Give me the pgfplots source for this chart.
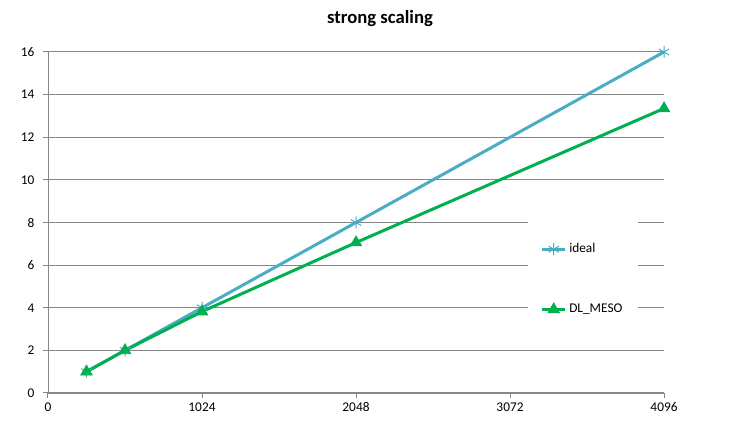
\documentclass[border=0pt]{standalone}
\usepackage{fontspec}
\setmainfont{Carlito}
\usepackage{pgfplots}
\pgfplotsset{compat=1.18}

\definecolor{idealblue}{HTML}{4BACC6}
\definecolor{mesogreen}{HTML}{00B050}
\definecolor{gridgray}{HTML}{868686}

\begin{document}
\begin{tikzpicture}
\begin{axis}[
  name=ax,
  scale only axis,
  width=462pt,
  height=255.75pt,
  xmin=0, xmax=4096,
  ymin=0, ymax=16,
  xtick={0,1024,2048,3072,4096},
  ytick={0,2,...,16},
  axis x line*=bottom,
  axis y line*=left,
  axis line style={gridgray,-},
  ymajorgrids,
  grid style={gridgray, line width=0.75pt},
  major tick style={gridgray, line width=0.75pt},
  tick align=outside,
  major tick length=3.75pt,
  tick label style={font=\fontsize{10}{12}\selectfont},
  /pgf/number format/assume math mode=true,
  scaled x ticks=false,
  xticklabel style={/pgf/number format/1000 sep={}},
  yticklabel style={xshift=-3pt},
  title={strong scaling},
  title style={font=\fontsize{14}{16}\selectfont\bfseries, at={(0.539,1)}, anchor=center, yshift=19pt},
  legend style={at={(0.778,0.525)}, anchor=north west, draw=none, fill=white,
    font=\fontsize{10}{12}\selectfont, row sep=33pt, inner xsep=10pt, inner ysep=20pt},
  legend cell align=left,
]
\addplot[color=idealblue, line width=2.25pt, mark=asterisk, mark size=4.5pt,
  mark options={line width=0.75pt}] coordinates {
  (256,1) (512,2) (1024,4) (2048,8) (4096,16)
};
\addlegendentry{ideal}
\addplot[color=mesogreen, line width=2.25pt, mark=triangle*, mark size=5pt,
  mark options={line width=0.5pt}] coordinates {
  (256,1) (512,2) (1024,3.82) (2048,7.06) (4096,13.35)
};
\addlegendentry{DL\_MESO}
\end{axis}
\path[use as bounding box] ([xshift=-36pt,yshift=-26.25pt]ax.south west)
  rectangle ([xshift=520.5pt,yshift=294.75pt]ax.south west);
\end{tikzpicture}
\end{document}
